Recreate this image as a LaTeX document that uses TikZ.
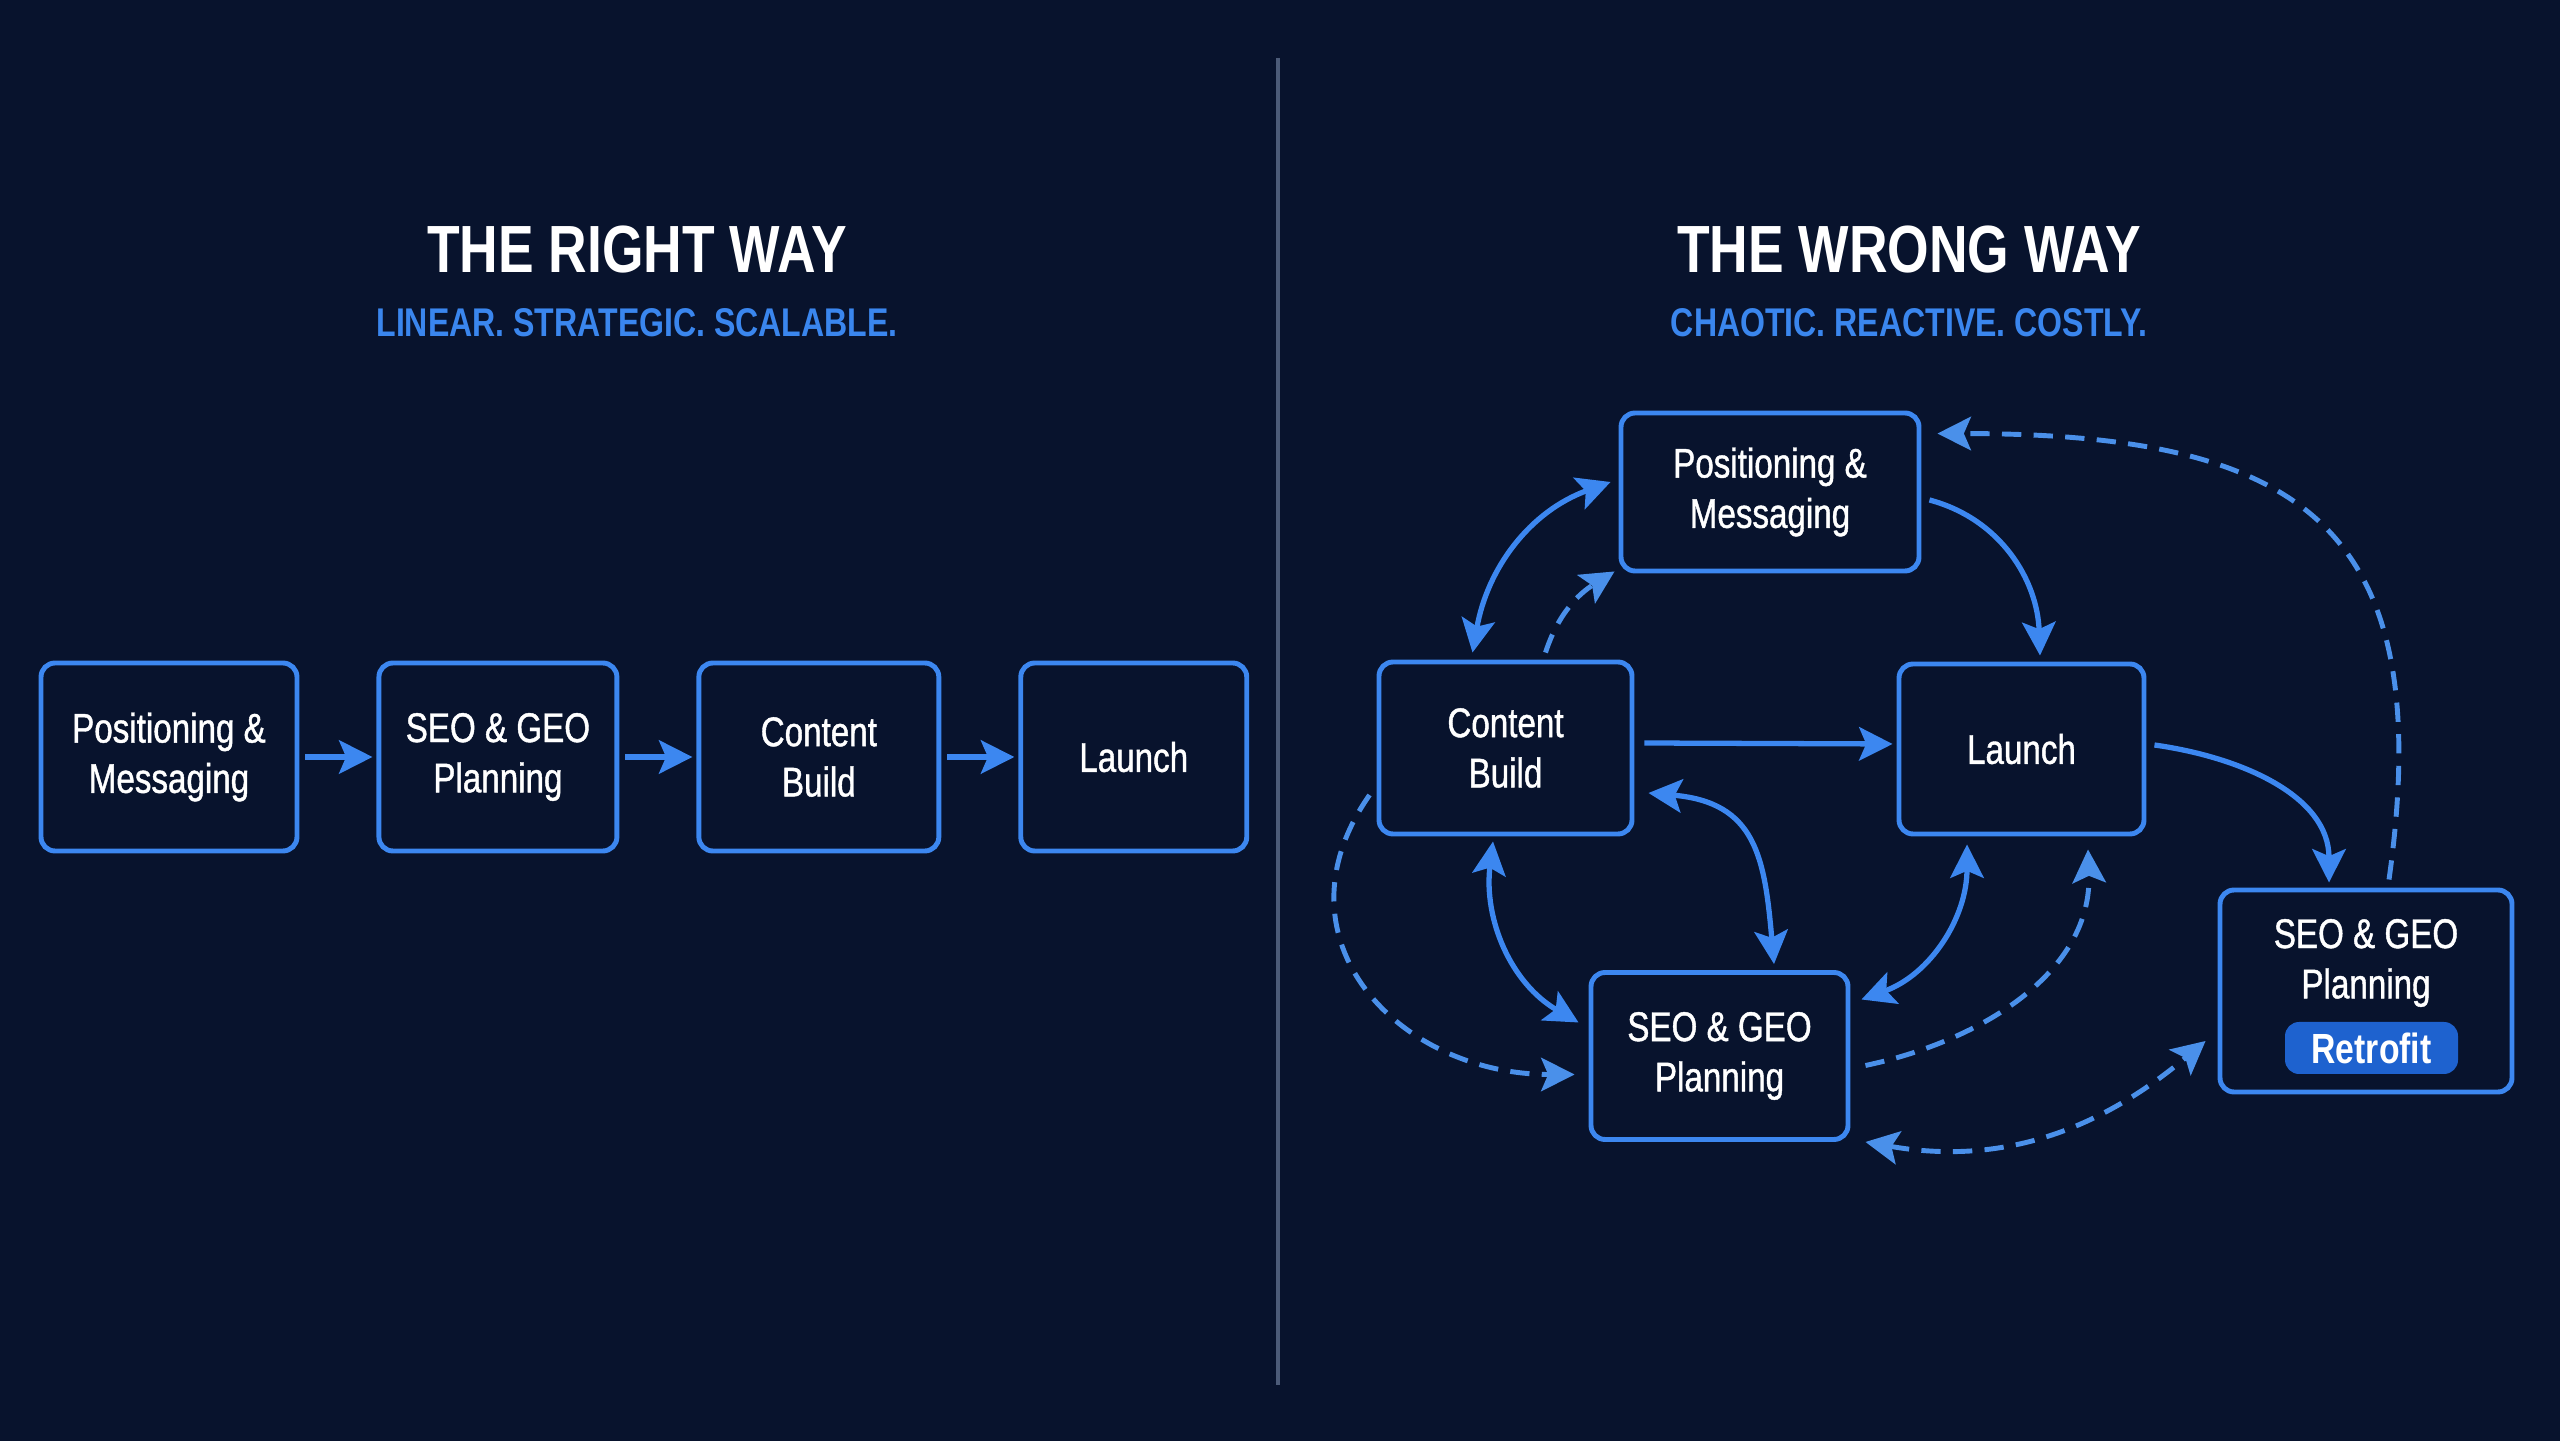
\documentclass[tikz,border=0pt]{standalone}
\usepackage{fontspec}
\setmainfont{Liberation Sans}[FakeStretch=0.8]
\newfontfamily\boxfont{Liberation Sans}[FakeStretch=0.8, FakeBold=1]
\usepackage{tikz}
\usetikzlibrary{positioning,arrows.meta}
\definecolor{bgnavy}{HTML}{08132D}
\definecolor{lineblue}{HTML}{3C87F0}
\definecolor{dashblue}{HTML}{4A90EA}
\definecolor{subblue}{HTML}{3A86EE}
\definecolor{tagblue}{HTML}{1E62CF}
\definecolor{rulegray}{HTML}{4C5B78}

\begin{document}
\begin{tikzpicture}[node distance=7.7mm, every node/.style={text=white, font=\boxfont\fontsize{11.8}{14.3}\selectfont}, box/.style={draw=lineblue, line width=1.4pt, rounded corners=4pt, align=center, minimum height=1.88cm}, ttl/.style={font=\fontsize{19}{22}\selectfont\bfseries}, sub/.style={text=subblue, font=\fontsize{11.4}{13}\selectfont\bfseries}, link/.style={draw=lineblue, line width=1.5pt}, loose/.style={draw=dashblue, line width=1.4pt, dash pattern=on 5.5pt off 3.5pt}, >={Stealth[length=9.5pt,width=9.5pt,inset=2pt]}]
\useasboundingbox (0,0) rectangle (25.6,14.4);
\fill[bgnavy] (-0.1,-0.1) rectangle (25.7,14.5);
\draw[rulegray, line width=0.9pt] (12.78,13.82) -- (12.78,0.55);

\node[ttl] (rtitle) at (6.37,11.90) {THE RIGHT WAY};
\node[sub] (rsub) at (6.37,11.17) {LINEAR. STRATEGIC. SCALABLE.};
\node[ttl] (wtitle) at (19.09,11.90) {THE WRONG WAY};
\node[sub] (wsub) at (19.09,11.17) {CHAOTIC. REACTIVE. COSTLY.};

\node[box, minimum width=2.56cm] (rpos) at (1.69,6.83) {Positioning \&\\Messaging};
\node[box, minimum width=2.38cm, right=of rpos] (rseo) {SEO \& GEO\\Planning};
\node[box, minimum width=2.40cm, right=of rseo] (rbuild) {Content\\Build};
\node[box, minimum width=2.26cm, right=of rbuild] (rlaunch) {Launch};
\draw[link,->] ([xshift=0.06cm]rpos.east) -- ([xshift=-0.04cm]rseo.west); \draw[link,->] ([xshift=0.06cm]rseo.east) -- ([xshift=-0.04cm]rbuild.west); \draw[link,->] ([xshift=0.06cm]rbuild.east) -- ([xshift=-0.04cm]rlaunch.west);

\node[box, minimum width=2.98cm, minimum height=1.58cm] (wpos) at (17.70,9.48) {Positioning \&\\Messaging};
\node[box, minimum width=2.53cm, minimum height=1.72cm] (wbuild) at (15.055,6.92) {Content\\Build};
\node[box, minimum width=2.45cm, minimum height=1.70cm] (wlaunch) at (20.215,6.91) {Launch};
\node[box, minimum width=2.57cm, minimum height=1.67cm] (wseo) at (17.195,3.84) {SEO \& GEO\\Planning};
\node[box, minimum width=2.92cm, minimum height=2.02cm] (wretro) at (23.66,4.49) {};
\node[align=center] (wretrotext) at (23.66,4.77) {SEO \& GEO\\Planning};
\node[fill=tagblue, rounded corners=4pt, minimum width=1.73cm, minimum height=0.52cm, inner sep=0pt, font=\fontsize{12}{14}\selectfont\bfseries] (retrofit) at (23.715,3.92) {Retrofit};

\draw[link,<->] ([xshift=-0.33cm,yshift=0.07cm]wbuild.north) to[out=80,in=200] ([xshift=-0.08cm,yshift=0.10cm]wpos.west);
\draw[loose,->] ([xshift=0.40cm,yshift=0.07cm]wbuild.north) to[out=72,in=212] ([xshift=-0.04cm,yshift=0.02cm]wpos.south west);
\draw[link,->] ([xshift=0.08cm,yshift=-0.08cm]wpos.east) to[out=-15,in=92] ([xshift=0.185cm,yshift=0.06cm]wlaunch.north);
\draw[loose,->] ([xshift=0.23cm,yshift=0.08cm]wretro.north) to[out=82,in=0,looseness=1.45] ([xshift=0.16cm,yshift=-0.23cm]wpos.north east);
\draw[link,->] ([xshift=0.10cm,yshift=0.05cm]wbuild.east) -- ([xshift=-0.04cm,yshift=0.05cm]wlaunch.west);
\draw[link,->] ([xshift=0.08cm,yshift=0.04cm]wlaunch.east) to[out=-8,in=90] ([xshift=-0.37cm,yshift=0.05cm]wretro.north);
\draw[link,<->] ([xshift=0.14cm,yshift=-0.45cm]wbuild.east) to[out=-5,in=95,looseness=1.3] ([xshift=0.545cm,yshift=0.06cm]wseo.north);
\draw[link,<->] ([xshift=-0.125cm,yshift=-0.05cm]wbuild.south) to[out=-97,in=150] ([xshift=-0.10cm,yshift=0.335cm]wseo.west);
\draw[link,<->] ([xshift=-0.545cm,yshift=-0.08cm]wlaunch.south) to[out=-90,in=20] ([xshift=0.11cm,yshift=0.565cm]wseo.east);
\draw[loose,->] ([xshift=0.15cm,yshift=-0.095cm]wseo.east) to[out=12,in=-88] ([xshift=0.665cm,yshift=-0.13cm]wlaunch.south);
\draw[loose,->] ([xshift=-0.07cm,yshift=-0.47cm]wbuild.west) to[out=235,in=180,looseness=1.3] ([xshift=-0.14cm,yshift=-0.185cm]wseo.west);
\draw[loose,<->] ([xshift=0.15cm]wseo.south east) to[out=-10,in=220] ([xshift=-0.12cm,yshift=-0.50cm]wretro.west);
\end{tikzpicture}
\end{document}
